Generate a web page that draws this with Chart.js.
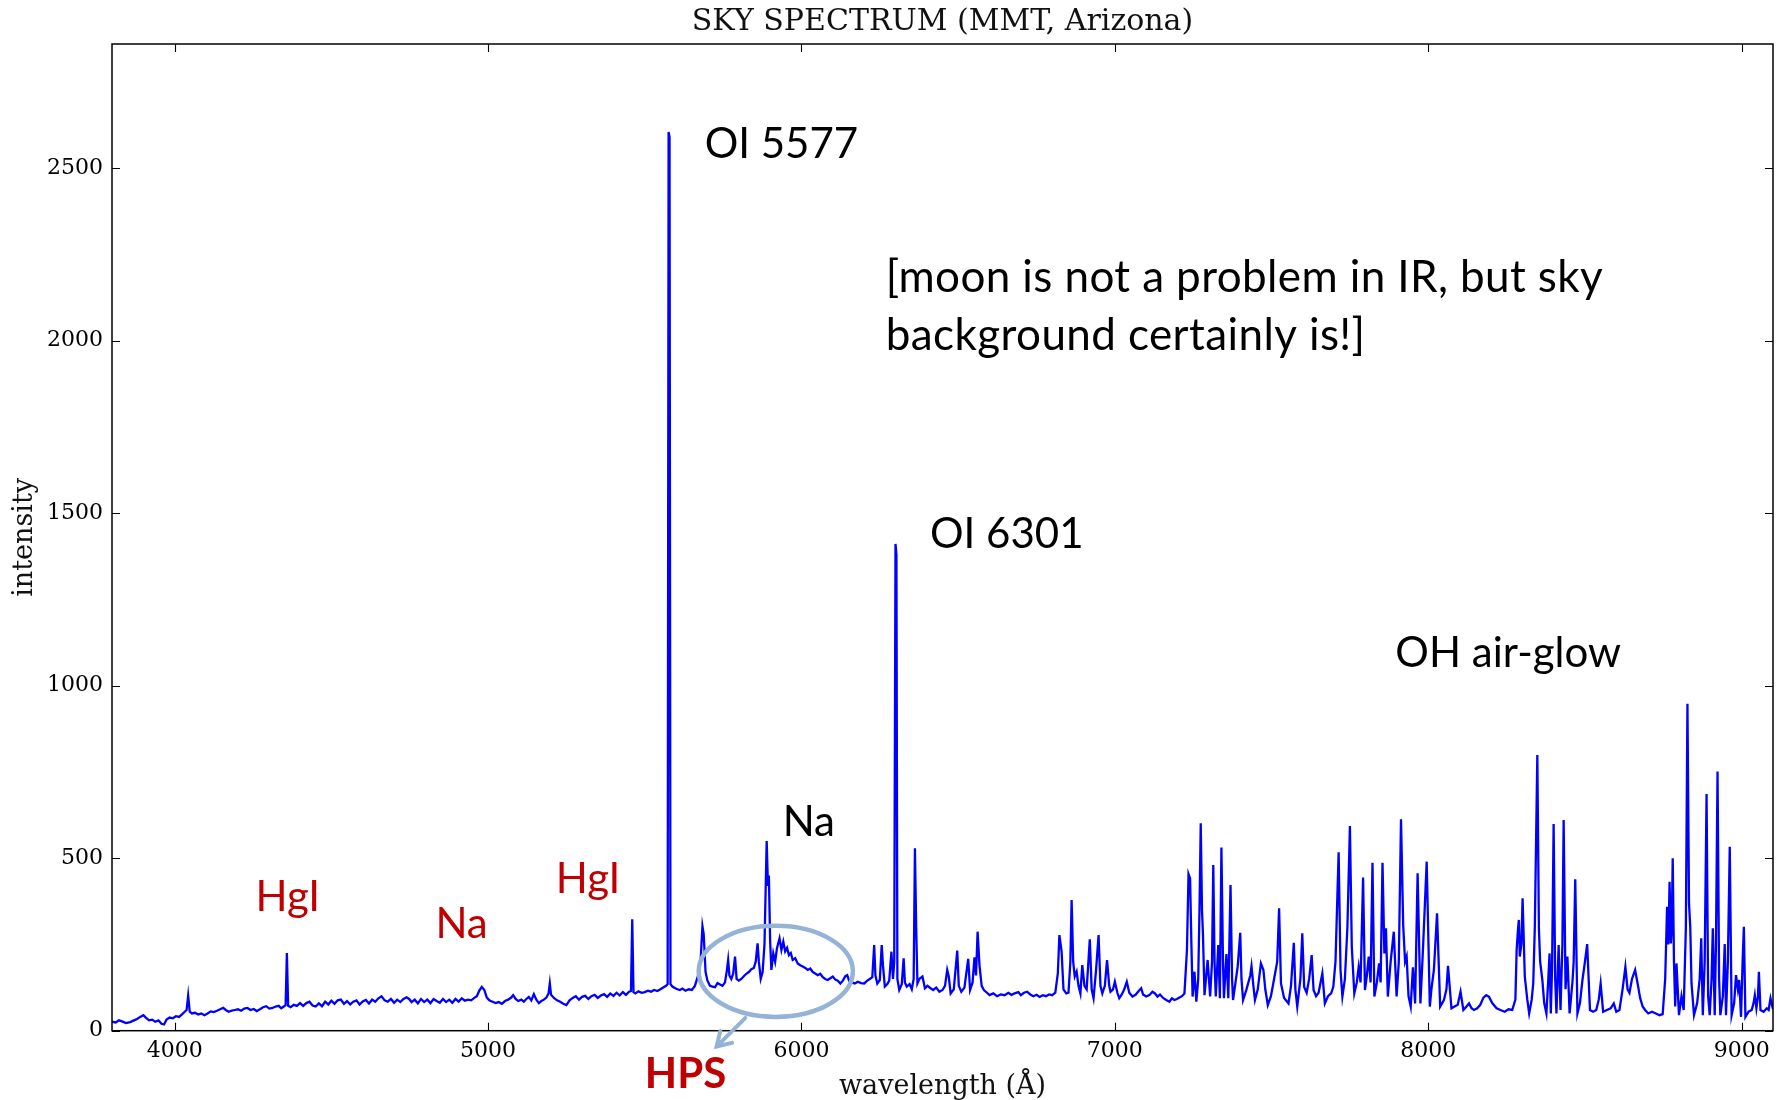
<!DOCTYPE html>
<html>
<head>
<meta charset="utf-8">
<title>Sky spectrum</title>
<script src="https://cdn.jsdelivr.net/npm/chart.js@4.4.1/dist/chart.umd.min.js"></script>
<style>
  html, body { margin: 0; padding: 0; background: #fff; }
  #wrap { width: 1788px; height: 1100px; }
</style>
</head>
<body>
<div id="wrap"><canvas id="skyChart" width="1788" height="1100"></canvas></div>
<script>
// Sky spectrum, MMT Arizona: wavelength in Angstrom, intensity in counts
const wavelength = [
  3800, 3812, 3822, 3832, 3845, 3858, 3870, 3880, 3890, 3900,
  3908, 3918, 3928, 3938, 3948, 3958, 3966, 3974, 3984, 3994,
  4004, 4014, 4024, 4032, 4038, 4043, 4048, 4055, 4065, 4075,
  4085, 4095, 4105, 4115, 4125, 4135, 4145, 4155, 4163, 4172,
  4182, 4192, 4202, 4212, 4222, 4232, 4242, 4252, 4262, 4272,
  4282, 4292, 4302, 4312, 4322, 4332, 4340, 4348, 4354, 4358,
  4362, 4370, 4380, 4390, 4400, 4410, 4420, 4430, 4440, 4450,
  4460, 4470, 4480, 4490, 4500, 4510, 4520, 4530, 4540, 4550,
  4560, 4570, 4580, 4590, 4600, 4610, 4620, 4630, 4640, 4650,
  4660, 4670, 4680, 4690, 4700, 4710, 4720, 4730, 4740, 4748,
  4756, 4766, 4776, 4786, 4796, 4806, 4816, 4826, 4836, 4846,
  4856, 4866, 4876, 4886, 4896, 4906, 4916, 4926, 4936, 4946,
  4956, 4964, 4972, 4980, 4988, 4996, 5004, 5014, 5024, 5034,
  5044, 5054, 5064, 5074, 5080, 5088, 5096, 5106, 5114, 5122,
  5130, 5138, 5146, 5154, 5162, 5170, 5178, 5186, 5193, 5197,
  5201, 5210, 5220, 5230, 5240, 5250, 5260, 5270, 5280, 5290,
  5300, 5310, 5320, 5330, 5340, 5350, 5360, 5370, 5380, 5390,
  5400, 5410, 5420, 5430, 5440, 5450, 5456, 5460, 5464, 5470,
  5480, 5490, 5500, 5510, 5520, 5530, 5540, 5550, 5560, 5568,
  5573, 5576, 5579, 5582, 5588, 5596, 5604, 5612, 5620, 5630,
  5640, 5650, 5660, 5670, 5678, 5684, 5688, 5694, 5700, 5708,
  5716, 5724, 5732, 5740, 5748, 5756, 5762, 5766, 5770, 5776,
  5782, 5788, 5793, 5800, 5808, 5816, 5824, 5832, 5840, 5848,
  5854, 5860, 5864, 5870, 5876, 5882, 5889, 5893, 5896, 5900,
  5904, 5910, 5916, 5922, 5930, 5936, 5942, 5948, 5954, 5960,
  5966, 5972, 5980, 5988, 5996, 6004, 6012, 6020, 6028, 6036,
  6044, 6052, 6060, 6068, 6076, 6084, 6092, 6100, 6108, 6116,
  6124, 6132, 6140, 6146, 6152, 6160, 6170, 6180, 6190, 6200,
  6210, 6218, 6226, 6232, 6236, 6242, 6250, 6256, 6260, 6266,
  6274, 6280, 6287, 6292, 6296, 6300, 6303, 6306, 6312, 6320,
  6326, 6330, 6336, 6345, 6352, 6358, 6362, 6366, 6370, 6376,
  6386, 6394, 6402, 6412, 6420, 6430, 6440, 6450, 6458, 6465,
  6470, 6476, 6486, 6497, 6502, 6510, 6520, 6532, 6538, 6546,
  6552, 6557, 6562, 6568, 6575, 6582, 6592, 6600, 6612, 6624,
  6636, 6648, 6660, 6670, 6680, 6692, 6700, 6710, 6720, 6730,
  6740, 6750, 6760, 6770, 6780, 6790, 6800, 6810, 6818, 6823,
  6830, 6836, 6845, 6852, 6858, 6862, 6867, 6872, 6878, 6884,
  6890, 6896, 6903, 6910, 6920, 6926, 6932, 6940, 6948, 6954,
  6960, 6968, 6975, 6982, 6986, 6994, 7000, 7008, 7014, 7022,
  7030, 7038, 7046, 7056, 7066, 7076, 7084, 7090, 7100, 7110,
  7120, 7128, 7136, 7144, 7154, 7164, 7174, 7182, 7190, 7198,
  7206, 7214, 7222, 7230, 7235, 7240, 7244, 7248, 7254, 7260,
  7266, 7270, 7274, 7278, 7281, 7286, 7296, 7304, 7310, 7314,
  7318, 7322, 7330, 7335, 7340, 7345, 7348, 7356, 7362, 7369,
  7374, 7377, 7385, 7392, 7400, 7404, 7409, 7420, 7432, 7436,
  7442, 7447, 7456, 7466, 7474, 7480, 7488, 7498, 7508, 7518,
  7524, 7530, 7540, 7554, 7562, 7571, 7576, 7582, 7592, 7598,
  7604, 7612, 7620, 7628, 7634, 7642, 7650, 7662, 7670, 7680,
  7690, 7697, 7704, 7714, 7720, 7726, 7734, 7742, 7750, 7756,
  7764, 7772, 7778, 7784, 7792, 7798, 7804, 7810, 7816, 7822,
  7828, 7836, 7843, 7848, 7854, 7860, 7865, 7871, 7880, 7890,
  7899, 7906, 7913, 7920, 7926, 7931, 7937, 7944, 7951, 7958,
  7966, 7975, 7983, 7995, 8005, 8010, 8018, 8028, 8038, 8050,
  8058, 8063, 8074, 8084, 8094, 8103, 8112, 8122, 8130, 8138,
  8146, 8156, 8166, 8176, 8185, 8194, 8204, 8218, 8230, 8244,
  8256, 8268, 8278, 8282, 8286, 8289, 8292, 8297, 8301, 8308,
  8316, 8322, 8330, 8335, 8340, 8348, 8353, 8357, 8364, 8370,
  8377, 8383, 8387, 8391, 8395, 8400, 8405, 8409, 8416, 8422,
  8428, 8432, 8438, 8444, 8451, 8460, 8464, 8469, 8476, 8484,
  8492, 8500, 8507, 8516, 8526, 8536, 8544, 8550, 8558, 8570,
  8582, 8592, 8600, 8610, 8620, 8629, 8636, 8642, 8650, 8660,
  8668, 8676, 8684, 8692, 8702, 8714, 8726, 8738, 8748, 8756,
  8762, 8766, 8770, 8774, 8777, 8780, 8784, 8788, 8792, 8800,
  8808, 8815, 8822, 8827, 8832, 8836, 8840, 8848, 8858, 8866,
  8871, 8876, 8882, 8888, 8893, 8898, 8904, 8908, 8914, 8918,
  8923, 8928, 8932, 8940, 8946, 8950, 8956, 8962, 8968, 8976,
  8982, 8988, 8992, 8998, 9003, 9007, 9012, 9022, 9032, 9038,
  9042, 9047, 9052, 9055, 9060, 9070, 9080, 9086, 9092, 9098,
  9100
];

const intensity = [
  26, 24, 30, 27, 22, 25, 30, 34, 40, 45,
  38, 30, 32, 26, 30, 20, 18, 32, 38, 36,
  42, 40, 48, 55, 60, 102, 55, 50, 52, 47,
  50, 45, 50, 56, 54, 58, 62, 66, 60, 55,
  58, 60, 62, 58, 64, 66, 60, 63, 57, 62,
  68, 71, 64, 66, 70, 72, 65, 70, 74, 225,
  72, 68, 75, 72, 80, 72, 80, 84, 73, 70,
  79, 71, 84, 76, 87, 78, 88, 90, 78, 86,
  76, 84, 88, 76, 85, 89, 79, 90, 84, 94,
  100, 88, 84, 92, 81, 90, 83, 92, 97, 92,
  83, 90, 79, 92, 83, 90, 80, 92, 86, 81,
  92, 83, 90, 81, 92, 84, 94, 87, 90, 88,
  95, 100, 116, 127, 118, 96, 88, 84, 80, 83,
  78, 86, 90, 96, 103, 92, 86, 90, 84, 92,
  98, 88, 106, 90, 80, 86, 90, 96, 108, 137,
  104, 95, 88, 84, 78, 74, 88, 95, 100, 90,
  98, 101, 92, 100, 104, 95, 102, 106, 98, 108,
  101, 110, 102, 112, 104, 113, 115, 323, 112, 108,
  114, 110, 112, 116, 113, 118, 115, 120, 126, 130,
  135, 2605, 2590, 135, 128, 124, 120, 118, 122, 116,
  120, 118, 130, 160, 200, 303, 280, 170, 145, 130,
  128, 126, 138, 134, 130, 140, 175, 205, 160, 150,
  165, 215, 150, 145, 150, 158, 165, 170, 178, 182,
  200, 253, 200, 150, 170, 250, 550, 420, 450, 260,
  176, 224, 200, 240, 268, 234, 258, 230, 240, 219,
  225, 205, 210, 195, 190, 186, 182, 176, 180, 170,
  166, 161, 165, 155, 150, 147, 152, 157, 148, 145,
  137, 145, 158, 161, 145, 140, 137, 142, 138, 137,
  145, 150, 155, 248, 160, 137, 147, 248, 190, 128,
  135, 145, 229, 150, 200, 1411, 1380, 150, 118, 135,
  210, 140, 128, 135, 120, 150, 529, 300, 137, 150,
  157, 123, 130, 123, 118, 125, 113, 118, 130, 176,
  157, 108, 120, 232, 130, 113, 125, 208, 118, 140,
  213, 160, 287, 190, 130, 118, 110, 103, 108, 100,
  105, 103, 110, 104, 108, 112, 103, 110, 113, 105,
  100, 104, 98, 103, 100, 105, 103, 110, 166, 277,
  230, 120, 108, 110, 200, 379, 200, 157, 171, 130,
  108, 190, 130, 120, 265, 120, 94, 176, 277, 130,
  108, 130, 205, 130, 113, 120, 142, 110, 94, 105,
  120, 142, 110, 99, 104, 115, 123, 105, 99, 103,
  113, 108, 99, 105, 95, 89, 84, 94, 89, 92,
  96, 100, 108, 234, 454, 441, 260, 99, 171, 84,
  150, 350, 601, 350, 282, 103, 205, 99, 200, 480,
  200, 99, 248, 94, 531, 200, 94, 222, 94, 422,
  150, 89, 140, 187, 284, 150, 89, 120, 160, 187,
  130, 89, 120, 195, 176, 120, 74, 100, 150, 200,
  355, 137, 95, 79, 130, 255, 120, 70, 150, 282,
  127, 110, 150, 219, 118, 100, 110, 166, 79, 100,
  108, 127, 200, 517, 176, 99, 150, 300, 593, 243,
  108, 140, 185, 140, 444, 118, 160, 215, 140, 487,
  99, 140, 195, 140, 487, 224, 297, 99, 200, 287,
  99, 200, 613, 306, 200, 215, 100, 70, 184, 79,
  456, 79, 234, 490, 70, 120, 176, 340, 70, 89,
  120, 188, 65, 70, 75, 113, 60, 70, 79, 65,
  60, 65, 75, 96, 103, 98, 80, 65, 60, 55,
  62, 60, 90, 234, 290, 321, 215, 250, 384, 157,
  90, 50, 90, 137, 300, 799, 297, 200, 147, 80,
  50, 150, 224, 50, 180, 599, 150, 50, 248, 60,
  250, 611, 120, 215, 50, 140, 200, 439, 50, 80,
  147, 200, 251, 60, 55, 60, 90, 137, 55, 60,
  65, 79, 55, 60, 120, 185, 120, 110, 150, 176,
  137, 95, 70, 60, 50, 55, 50, 45, 48, 150,
  359, 250, 432, 253, 300, 500, 200, 70, 195, 45,
  100, 60, 300, 948, 369, 300, 137, 45, 80, 150,
  268, 45, 200, 686, 100, 45, 150, 297, 45, 250,
  751, 150, 45, 100, 251, 45, 200, 533, 45, 80,
  161, 120, 147, 40, 200, 301, 40, 55, 60, 80,
  103, 65, 100, 171, 60, 55, 65, 60, 94, 70,
  62
];

// axis ranges and tick labels
const xRange = [3800, 9100];
const yRange = [0, 2860];
const xTickValues = [4000, 5000, 6000, 7000, 8000, 9000];
const yTickValues = [0, 500, 1000, 1500, 2000, 2500];

// line identifications: [text, wavelength, intensity at baseline, colour, weight]
const lineLabels = [
  ['OI 5577', 5691, 2529, '#000000', 'normal'],
  ['OI 6301', 6410, 1398, '#000000', 'normal'],
  ['OH air-glow', 7895, 1054, '#000000', 'normal'],
  ['Na', 5940, 564, '#000000', 'normal'],
  ['HgI', 4258, 347, '#c00000', 'normal'],
  ['Na', 4832, 269, '#c00000', 'normal'],
  ['HgI', 5216, 399, '#c00000', 'normal'],
  ['HPS', 5500, -166, '#c00000', 'bold']
];
const noteLines = ['[moon is not a problem in IR, but sky', 'background certainly is!]'];
const notePos = [6269, 2141, 1973];

// HPS hump marker: centre, half-width (A), half-height (counts), arrow
const hpsRing = { x: 5918, y: 172, rx: 246, ry: 132 };
const hpsArrow = { from: [5821, 37], to: [5729, -46] };

const serif = '"DejaVu Serif", serif';

const decorations = {
  id: 'decorations',
  afterDraw(chart) {
    const { ctx, chartArea: a } = chart;
    const xs = chart.scales.x, ys = chart.scales.y;
    ctx.save();

    // frame and inward ticks on all four sides
    ctx.strokeStyle = '#000';
    ctx.lineWidth = 1.5;
    ctx.strokeRect(a.left, a.top, a.right - a.left, a.bottom - a.top);
    ctx.lineWidth = 1.1;
    ctx.beginPath();
    xTickValues.forEach(v => {
      const px = Math.round(xs.getPixelForValue(v)) + 0.5;
      ctx.moveTo(px, a.bottom); ctx.lineTo(px, a.bottom - 8);
      ctx.moveTo(px, a.top); ctx.lineTo(px, a.top + 8);
    });
    yTickValues.forEach(v => {
      const py = Math.round(ys.getPixelForValue(v)) + 0.5;
      ctx.moveTo(a.left, py); ctx.lineTo(a.left + 8, py);
      ctx.moveTo(a.right, py); ctx.lineTo(a.right - 8, py);
    });
    ctx.stroke();

    // title and axis names
    ctx.fillStyle = '#111';
    ctx.textAlign = 'center';
    ctx.textBaseline = 'alphabetic';
    ctx.font = '30px ' + serif;
    ctx.fillText('SKY SPECTRUM (MMT, Arizona)', (a.left + a.right) / 2, 30);
    ctx.font = '27px ' + serif;
    ctx.fillText('wavelength (\u00c5)', (a.left + a.right) / 2, 1094);
    ctx.save();
    ctx.translate(25, (a.top + a.bottom) / 2);
    ctx.rotate(-Math.PI / 2);
    ctx.textBaseline = 'middle';
    ctx.fillText('intensity', 0, 0);
    ctx.restore();

    // line identifications
    ctx.textAlign = 'left';
    ctx.textBaseline = 'alphabetic';
    lineLabels.forEach(([text, wl, val, color, weight]) => {
      ctx.font = (weight === 'bold' ? 'bold ' : '') + '42px Lato';
      ctx.fillStyle = color;
      ctx.fillText(text, xs.getPixelForValue(wl), ys.getPixelForValue(val));
    });
    ctx.font = '44px Lato';
    ctx.letterSpacing = '0.4px';
    ctx.fillStyle = '#000';
    noteLines.forEach((t, i) => {
      ctx.fillText(t, xs.getPixelForValue(notePos[0]), ys.getPixelForValue(notePos[i + 1]));
    });
    ctx.letterSpacing = '0px';

    // ring around the HPS sodium hump with an arrow to its label
    const cx = xs.getPixelForValue(hpsRing.x), cy = ys.getPixelForValue(hpsRing.y);
    const rx = xs.getPixelForValue(hpsRing.x + hpsRing.rx) - cx;
    const ry = cy - ys.getPixelForValue(hpsRing.y + hpsRing.ry);
    ctx.strokeStyle = '#95b3d7';
    ctx.lineWidth = 4.5;
    ctx.beginPath();
    ctx.ellipse(cx, cy, rx, ry, 0, 0, Math.PI * 2);
    ctx.stroke();

    const x0 = xs.getPixelForValue(hpsArrow.from[0]), y0 = ys.getPixelForValue(hpsArrow.from[1]);
    const x1 = xs.getPixelForValue(hpsArrow.to[0]), y1 = ys.getPixelForValue(hpsArrow.to[1]);
    const ang = Math.atan2(y1 - y0, x1 - x0);
    ctx.lineWidth = 4;
    ctx.lineCap = 'round';
    ctx.beginPath();
    ctx.moveTo(x0, y0); ctx.lineTo(x1, y1);
    ctx.moveTo(x1 - 16 * Math.cos(ang - 0.55), y1 - 16 * Math.sin(ang - 0.55));
    ctx.lineTo(x1, y1);
    ctx.lineTo(x1 - 16 * Math.cos(ang + 0.55), y1 - 16 * Math.sin(ang + 0.55));
    ctx.stroke();

    ctx.restore();
  }
};

const points = wavelength.map((w, i) => ({ x: w, y: intensity[i] }));

new Chart(document.getElementById('skyChart'), {
  type: 'line',
  data: {
    datasets: [{
      data: points,
      borderColor: '#0000ff',
      borderWidth: 2.3,
      pointRadius: 0,
      tension: 0,
      fill: false
    }]
  },
  options: {
    responsive: false,
    animation: false,
    devicePixelRatio: 1,
    layout: { padding: { top: 44, right: 15, left: 0, bottom: 0 } },
    plugins: { legend: { display: false }, tooltip: { enabled: false }, title: { display: false } },
    scales: {
      x: {
        type: 'linear',
        min: xRange[0],
        max: xRange[1],
        grid: { display: false, tickLength: 0 },
        border: { display: false },
        afterBuildTicks: s => { s.ticks = xTickValues.map(v => ({ value: v })); },
        afterFit: s => { s.height = 69.3; },
        ticks: {
          padding: 7,
          maxRotation: 0,
          color: '#000',
          font: { family: serif, size: 22 },
          callback: v => String(v)
        }
      },
      y: {
        min: yRange[0],
        max: yRange[1],
        grid: { display: false, tickLength: 0 },
        border: { display: false },
        afterBuildTicks: s => { s.ticks = yTickValues.map(v => ({ value: v })); },
        afterFit: s => { s.width = 112; },
        ticks: {
          padding: 9,
          color: '#000',
          font: { family: serif, size: 22 },
          callback: v => String(v)
        }
      }
    }
  },
  plugins: [decorations]
});
</script>
</body>
</html>
